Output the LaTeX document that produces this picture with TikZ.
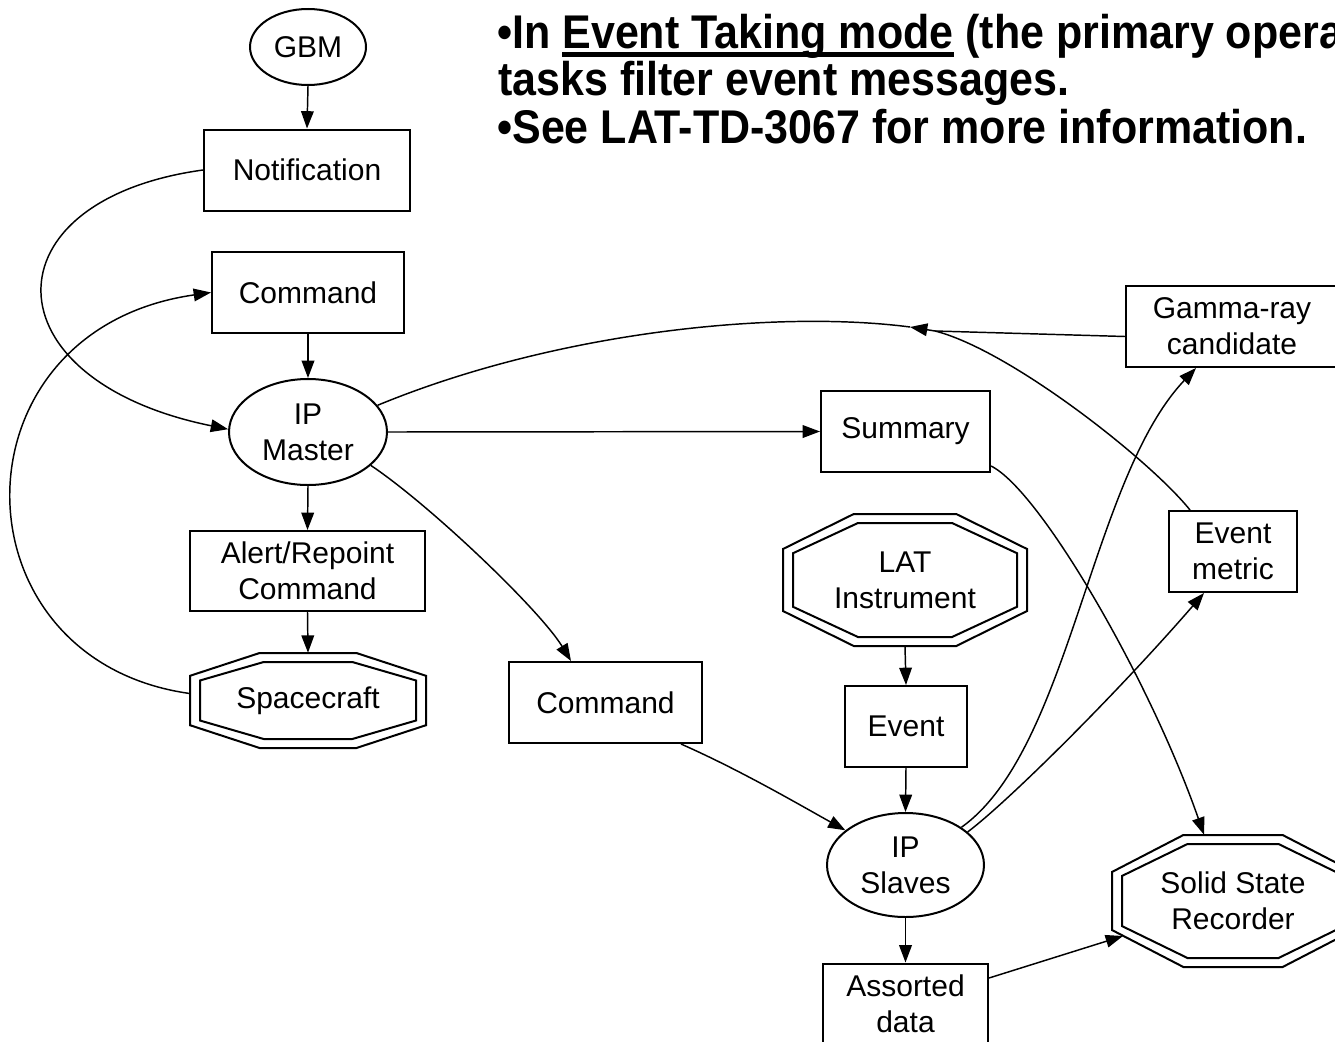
\documentclass[tikz,border=0pt]{standalone}
\usepackage{fontspec}
\setmainfont{Liberation Sans}
\usetikzlibrary{arrows.meta,calc,shapes.geometric}
\newsavebox\ulbox
\newcommand\myul[1]{\sbox\ulbox{#1}\rlap{\rule[-6pt]{\wd\ulbox}{3pt}}\usebox\ulbox}
\newcommand\octpath[5]{\draw[octline] ($(#1)+({-#4*#2},{-#3})$) -- ($(#1)+({#4*#2},{-#3})$) -- ($(#1)+({#2},{-#5*#3})$) -- ($(#1)+({#2},{#5*#3})$) -- ($(#1)+({#4*#2},{#3})$) -- ($(#1)+({-#4*#2},{#3})$) -- ($(#1)+({-#2},{#5*#3})$) -- ($(#1)+({-#2},{-#5*#3})$) -- cycle;}
\begin{document}
\begin{tikzpicture}[x=0.75pt,y=-0.75pt,
  nf/.style={font=\fontsize{22.5pt}{27pt}\selectfont},
  box/.style={nf,draw,line width=1.5pt,rectangle,inner sep=0pt,align=center},
  ell/.style={nf,draw,line width=1.5pt,ellipse,inner sep=0pt,align=center},
  oct/.style={nf,rectangle,inner sep=0pt,align=center},
  octline/.style={line width=1.5pt,line join=miter},
  link/.style={line width=1.1pt},
  arr/.style={link,-{Triangle[length=13pt,width=9.5pt]}},
  hdr/.style={font=\fontsize{32.25pt}{35pt}\selectfont\bfseries,inner sep=0pt,anchor=base west}
]
\useasboundingbox (0,0) rectangle (1335,1042);
\clip (0,0) rectangle (1335,1042);
\fill[white] (0,0) rectangle (1335,1042);

% header text
\node[hdr] (t1) at (497,48) {\scalebox{1}[1.1]{•In \myul{Event Taking mode} (the primary opera}};
\node[hdr] (t2) at (498,95) {\scalebox{1}[1.1]{tasks filter event messages.}};
\node[hdr] (t3) at (497,143) {\scalebox{1}[1.1]{•See LAT-TD-3067 for more information.}};

% nodes
\node[ell,minimum width=87pt,minimum height=57pt] (gbm) at (308,47) {GBM};
\node[box,minimum width=154.5pt,minimum height=60.75pt] (notif) at (307,170) {Notification};
\node[box,minimum width=144pt,minimum height=60.75pt] (cmd1) at (308,292.5) {Command};
\node[ell,minimum width=118.5pt,minimum height=79.5pt] (master) at (308,432) {IP\\Master};
\node[box,minimum width=176.25pt,minimum height=60pt] (alert) at (307.5,571) {Alert/Repoint\\Command};
\node[oct,minimum width=177pt,minimum height=71.25pt] (sc) at (308,700.5) {Spacecraft};
\node[box,minimum width=144.75pt,minimum height=60.75pt] (cmd2) at (605.5,702.5) {Command};
\node[box,minimum width=126.75pt,minimum height=60.75pt] (summary) at (905.5,431.5) {Summary};
\node[oct,minimum width=183pt,minimum height=99pt] (lat) at (905,580) {LAT\\Instrument};
\node[box,minimum width=91.5pt,minimum height=60.75pt] (event) at (906,726.5) {Event};
\node[ell,minimum width=117.75pt,minimum height=78pt] (slaves) at (905.5,865) {IP\\Slaves};
\node[box,minimum width=123.75pt,minimum height=60.75pt] (assorted) at (905.5,1004) {Assorted\\data};
\node[oct,minimum width=181.5pt,minimum height=99pt] (ssr) at (1233,901) {Solid State\\Recorder};
\node[box,minimum width=159pt,minimum height=60.75pt] (gamma) at (1232,326.5) {Gamma-ray\\candidate};
\node[box,minimum width=96pt,minimum height=60.75pt] (emetric) at (1233,551.5) {Event\\metric};

% double octagons
\octpath{sc}{118}{47.5}{0.41}{0.52}
\octpath{sc}{108}{38.5}{0.41}{0.52}
\octpath{lat}{122}{66}{0.42}{0.47}
\octpath{lat}{112}{57}{0.42}{0.47}
\octpath{ssr}{121}{66}{0.41}{0.44}
\octpath{ssr}{111}{57}{0.41}{0.44}

% connectors
\draw[arr] (gbm.south) -- (notif.north);
\draw[arr] (cmd1.south) -- (master.north);
\draw[arr] (master.south) -- (alert.north);
\draw[arr] (alert.south) -- (sc.north);
\draw[arr] (master.east) -- (summary.west);
\draw[arr] (lat.south) -- (event.north);
\draw[arr] (event.south) -- (slaves.north);
\draw[arr] (slaves.south) -- (assorted.north);
\draw[arr] (notif.west) .. controls (-15,200) and (-14,380) .. (master.178);
\draw[arr] ($(sc.west)+(0,-7)$) .. controls (-50,660) and (-52,330) .. (cmd1.west);
\draw[arr] (master.-28) .. controls (430,505) and (540,610) .. ($(cmd2.north west)+(63,0)$);
\draw[arr] ($(cmd2.south east)+(-22,0)$) .. controls (740,770) and (800,805) .. (slaves.150);
\draw[arr] ($(summary.south east)+(0,-7)$) .. controls (1040,490) and (1150,680) .. ($(ssr.north)+(-29,0)$);
\draw[arr] ($(assorted.east)+(0,-26)$) -- ($(ssr)+(-110,35)$);
\draw[arr] (slaves.34) .. controls (1070,750) and (1090,480) .. ($(gamma.south west)+(71,0)$);
\draw[arr] (slaves.28) .. controls (1010,800) and (1120,690) .. ($(emetric.south west)+(36,0)$);
\coordinate (j) at (935,331);
\coordinate (jt) at (910,327);
\draw[link] ($(gamma.west)+(0,10)$) -- (j);
\draw[link] ($(emetric.north)+(-43,0)$) .. controls (1150,460) and (1010,350) .. (j);
\draw[arr] (j) -- (jt);
\draw[link] (jt) .. controls (780,310) and (560,330) .. (master.21);
\end{tikzpicture}
\end{document}
